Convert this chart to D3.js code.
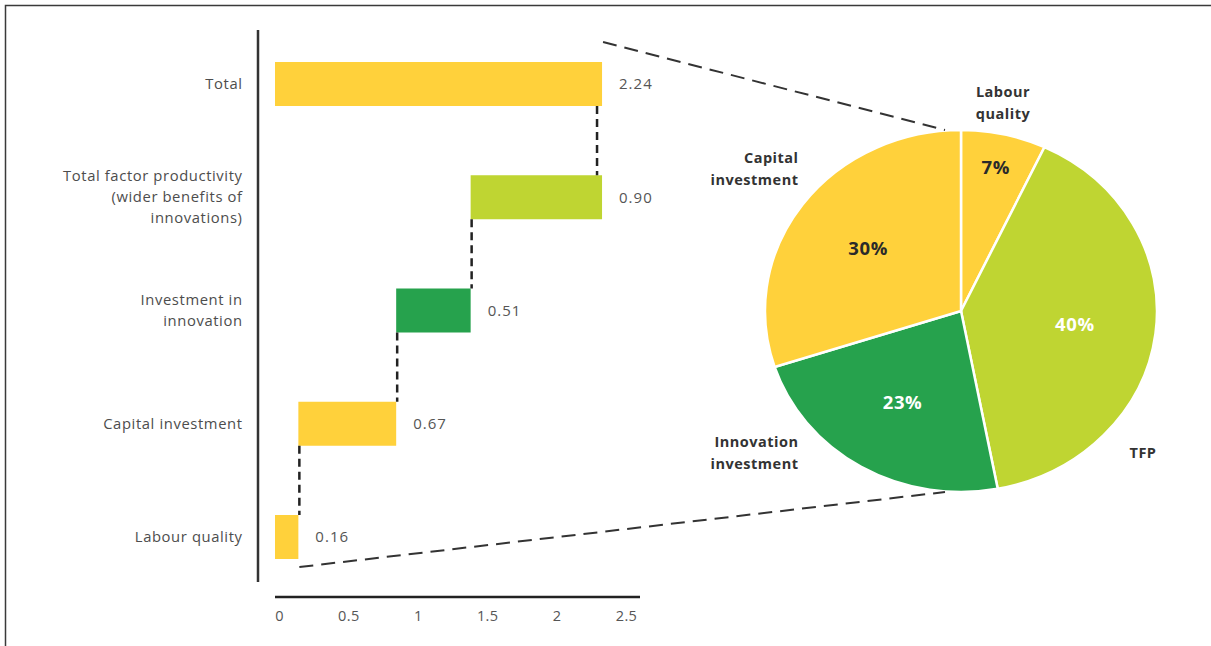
<!DOCTYPE html>
<html><head><meta charset="utf-8">
<script src="https://cdn.jsdelivr.net/npm/d3@7"></script>
<style>
html,body{margin:0;padding:0;background:#fff;}
text{font-family:"Open Sans","Noto Sans",sans-serif;}
</style></head>
<body><svg id="c" width="1211" height="646"></svg>
<script>
// ---- data ----
const categories = ["Total", "Total factor productivity\n(wider benefits of\ninnovations)", "Investment in\ninnovation", "Capital investment", "Labour quality"];
const barValues = [2.24, 0.90, 0.51, 0.67, 0.16];
const barKinds = ["total", "tfp", "innovation", "capital", "labour"];
const xTicks = [0, 0.5, 1, 1.5, 2, 2.5];
const xTickLabels = ["0", "0.5", "1", "1.5", "2", "2.5"];
const pieLabels = ["Labour\nquality", "TFP", "Innovation\ninvestment", "Capital\ninvestment"];
const pieValues = [7, 40, 23, 30];
const pieKinds = ["labour", "tfp", "innovation", "capital"];

const colors = {total:"#FFD13B", labour:"#FFD13B", capital:"#FFD13B", tfp:"#BFD532", innovation:"#26A24D"};

const svg = d3.select("#c");
// frame
svg.append("path").attr("d","M5.5,646 V5.5 H1211").attr("fill","none").attr("stroke","#3a3a3a").attr("stroke-width",1.5);

const x = d3.scaleLinear().domain([0, 2.5]).range([275, 640]);
const xLab = d3.scaleLinear().domain([0, 2.5]).range([279, 626]);
const y = d3.scalePoint().domain(categories).range([84, 537]);
const barH = 44;
const LS = 0.6; // letter spacing

// waterfall: compute start/end
const order = [4,3,2,1]; // labour -> capital -> innovation -> tfp
const starts = new Array(barValues.length).fill(0);
let cum = 0;
order.forEach(i => { starts[i] = cum; cum += barValues[i]; });
starts[0] = 0;

// y axis line
svg.append("line").attr("x1",258).attr("x2",258).attr("y1",30).attr("y2",582)
  .attr("stroke","#333").attr("stroke-width",2.5);

// category labels
categories.forEach((c,i) => {
  const lines = c.split("\n");
  const t = svg.append("text").attr("text-anchor","end").attr("font-size",14.8)
    .attr("letter-spacing",LS).attr("fill","#4d4d4d");
  const lh = 21;
  const y0 = y(c) - (lines.length-1)*lh/2;
  lines.forEach((l,j) => t.append("tspan").attr("x",242+LS).attr("y",y0 + j*lh).attr("dy","0.35em").text(l));
});

// bars
svg.selectAll("rect.bar").data(barValues).join("rect").attr("class","bar")
  .attr("x",(d,i)=>x(starts[i]))
  .attr("width",(d,i)=>x(starts[i]+d)-x(starts[i]))
  .attr("y",(d,i)=>y(categories[i])-barH/2)
  .attr("height",barH)
  .attr("fill",(d,i)=>colors[barKinds[i]]);

// value labels
svg.selectAll("text.val").data(barValues).join("text").attr("class","val")
  .attr("x",(d,i)=>x(starts[i]+d)+17)
  .attr("y",(d,i)=>y(categories[i]))
  .attr("dy","0.35em").attr("font-size",15).attr("letter-spacing",1).attr("fill","#555")
  .text(d=>d.toFixed(2));

// connectors (vertical dashed)
const conn = [[0,1],[1,2],[2,3],[3,4]];
conn.forEach(([a,b]) => {
  const xv2 = (a===0) ? x(starts[0]+barValues[0]) - 5 : x(starts[a]) + 1;
  svg.append("line").attr("x1",xv2).attr("x2",xv2)
    .attr("y1",y(categories[a])+barH/2).attr("y2",y(categories[b])-barH/2)
    .attr("stroke","#222").attr("stroke-width",2.5).attr("stroke-dasharray","8,5");
});

// x axis
svg.append("line").attr("x1",x.range()[0]).attr("x2",x.range()[1]).attr("y1",597).attr("y2",597)
  .attr("stroke","#222").attr("stroke-width",2.5);
const ax = svg.append("g").attr("transform","translate(0,608)")
  .call(d3.axisBottom(xLab).tickValues(xTicks).tickFormat((d,i)=>xTickLabels[i]).tickSize(0));
ax.select(".domain").remove();
ax.selectAll("text").attr("font-size",14.5).attr("letter-spacing",0.4).attr("fill","#555").attr("font-family","Open Sans, sans-serif");

// pie
const cx = 961, cy = 311, ry = 181, rx = 196;
const sx = rx/ry;
const pie = d3.pie().sort(null).value(d=>d)(pieValues);
const arc = d3.arc().innerRadius(0).outerRadius(ry);
const pg = svg.append("g").attr("transform",`translate(${cx},${cy}) scale(${sx},1)`);
pg.selectAll("path").data(pie).join("path")
  .attr("d",arc).attr("fill",(d,i)=>colors[pieKinds[i]])
  .attr("stroke","#fff").attr("stroke-width",2.5).attr("vector-effect","non-scaling-stroke");

// zoom lines
svg.append("line").attr("x1",x(barValues[0])+1).attr("y1",y(categories[0])-barH/2-20)
  .attr("x2",cx-16).attr("y2",cy-ry).attr("stroke","#333").attr("stroke-width",2).attr("stroke-dasharray","14,8");
svg.append("line").attr("x1",x(barValues[4])+1).attr("y1",y(categories[4])+barH/2+8)
  .attr("x2",cx-16).attr("y2",cy+ry).attr("stroke","#333").attr("stroke-width",2).attr("stroke-dasharray","14,8");

// percentage labels
pie.forEach((d,i) => {
  const r = pieValues[i] < 10 ? 147 : 106;
  const a = (d.startAngle + d.endAngle)/2;
  const px = cx + Math.sin(a)*r*sx, py = cy - Math.cos(a)*r;
  svg.append("text").attr("x",px).attr("y",py).attr("dy","0.35em").attr("text-anchor","middle")
    .attr("font-size",18.5).attr("letter-spacing",0.6).attr("font-weight","bold")
    .attr("fill", (pieKinds[i]==="tfp"||pieKinds[i]==="innovation") ? "#fff" : "#2a2a2a")
    .text(pieValues[i] + "%");
});

// outer labels
const outerPos = {labour:[42,-208,"middle"], tfp:[182,142,"middle"], innovation:[-163,142,"end"], capital:[-163,-142,"end"]};
pieKinds.forEach((k,i) => {
  const [dx,dy,anchor] = outerPos[k];
  const lines = pieLabels[i].split("\n");
  const t = svg.append("text").attr("text-anchor",anchor).attr("font-size",14.5)
    .attr("letter-spacing",0.5).attr("font-weight","bold").attr("fill","#333");
  const lh = 22;
  const y0 = cy + dy - (lines.length-1)*lh/2;
  lines.forEach((l,j)=>t.append("tspan").attr("x",cx+dx+(anchor==="end"?0.5:0)).attr("y",y0+j*lh).attr("dy","0.35em").text(l));
});
</script></body></html>
